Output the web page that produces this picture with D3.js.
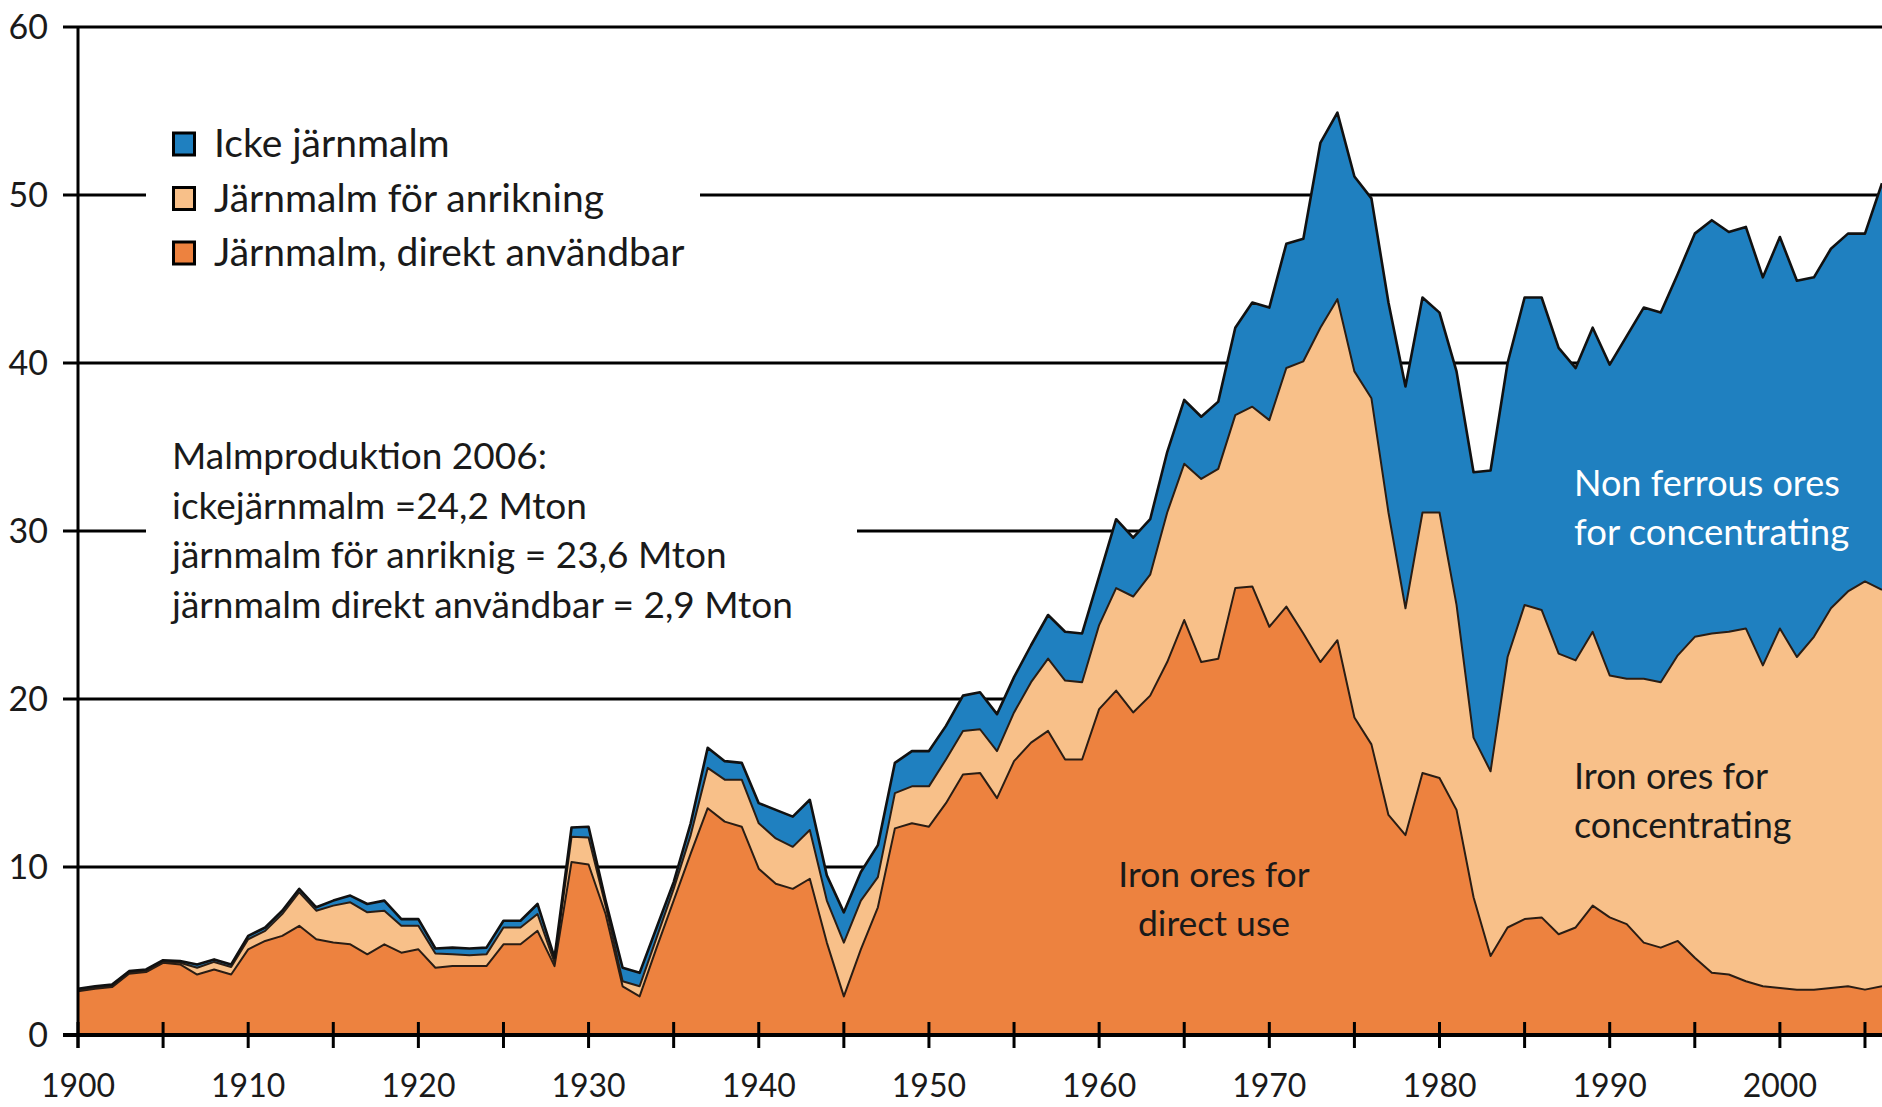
<!DOCTYPE html>
<html>
<head>
<meta charset="utf-8">
<script src="https://cdn.jsdelivr.net/npm/d3@7"></script>
<style>
  html, body { margin: 0; padding: 0; background: #fff; }
  svg { display: block; }
  text { font-family: Lato, "Open Sans", sans-serif; fill: #1a1a1a; }
</style>
</head>
<body>
<div id="container"><svg></svg></div>
<script>
// Malmproduktion i Sverige 1900-2006, Mton
let years = d3.range(1900, 2007);

let direct = [
  2.6, 2.75, 2.85, 3.65, 3.75, 4.3, 4.2, 3.6, 3.9, 3.6,
  5.1, 5.6, 5.9, 6.5, 5.7, 5.5, 5.4, 4.8, 5.4, 4.9,
  5.1, 4.0, 4.1, 4.1, 4.1, 5.4, 5.4, 6.2, 4.1, 10.3,
  10.15, 7.2, 2.9, 2.3, 5.2, 8.0, 10.8, 13.5, 12.7, 12.4,
  9.9, 9.0, 8.7, 9.3, 5.5, 2.3, 5.1, 7.6, 12.3, 12.6,
  12.4, 13.8, 15.5, 15.6, 14.1, 16.3, 17.4, 18.1, 16.4, 16.4,
  19.4, 20.5, 19.2, 20.2, 22.2, 24.7, 22.2, 22.4, 26.6, 26.7,
  24.3, 25.5, 23.9, 22.2, 23.5, 18.9, 17.3, 13.1, 11.9, 15.6,
  15.3, 13.4, 8.2, 4.7, 6.4, 6.9, 7.0, 6.0, 6.4, 7.7,
  7.0, 6.6, 5.5, 5.2, 5.6, 4.6, 3.7, 3.6, 3.2, 2.9,
  2.8, 2.7, 2.7, 2.8, 2.9, 2.7, 2.9
];

let concentrating = [
  0.05, 0.05, 0.05, 0.05, 0.05, 0.05, 0.1, 0.4, 0.45, 0.45,
  0.6, 0.6, 1.3, 2.0, 1.7, 2.2, 2.5, 2.5, 2.0, 1.6,
  1.4, 0.85, 0.7, 0.65, 0.7, 1.0, 1.0, 1.0, 0.2, 1.5,
  1.6, 0.5, 0.3, 0.6, 0.6, 0.7, 1.1, 2.4, 2.5, 2.8,
  2.7, 2.7, 2.5, 2.9, 2.5, 3.2, 2.9, 1.8, 2.1, 2.2,
  2.4, 2.6, 2.6, 2.6, 2.8, 2.9, 3.6, 4.3, 4.7, 4.6,
  5.0, 6.1, 6.9, 7.2, 8.9, 9.3, 10.9, 11.3, 10.3, 10.7,
  12.3, 14.2, 16.2, 19.9, 20.3, 20.6, 20.6, 18.0, 13.5, 15.5,
  15.8, 12.2, 9.5, 11.0, 16.1, 18.7, 18.3, 16.7, 15.9, 16.3,
  14.4, 14.6, 15.7, 15.8, 17.0, 19.1, 20.2, 20.4, 21.0, 19.1,
  21.4, 19.8, 21.0, 22.6, 23.5, 24.3, 23.6
];

let nonFerrous = [
  0.1, 0.1, 0.1, 0.1, 0.1, 0.1, 0.1, 0.2, 0.15, 0.15,
  0.2, 0.2, 0.2, 0.2, 0.2, 0.3, 0.4, 0.5, 0.6, 0.4,
  0.4, 0.3, 0.4, 0.4, 0.4, 0.4, 0.4, 0.6, 0.3, 0.55,
  0.65, 0.3, 0.8, 0.8, 0.6, 0.4, 0.7, 1.2, 1.1, 1.0,
  1.2, 1.7, 1.8, 1.8, 1.5, 1.8, 1.7, 1.9, 1.8, 2.1,
  2.1, 2.0, 2.1, 2.2, 2.2, 2.1, 2.2, 2.6, 2.9, 2.9,
  2.9, 4.1, 3.5, 3.3, 3.6, 3.8, 3.7, 4.0, 5.2, 6.2,
  6.7, 7.4, 7.3, 11.0, 11.1, 11.6, 11.9, 12.5, 13.2, 12.8,
  11.9, 13.9, 15.8, 17.9, 17.5, 18.3, 18.6, 18.2, 17.4, 18.1,
  18.5, 20.4, 22.1, 22.0, 22.7, 24.0, 24.6, 23.8, 23.9, 23.1,
  23.3, 22.4, 21.4, 21.4, 21.3, 20.7, 24.2
];

let keys = ['direct', 'concentrating', 'nonFerrous'];
let colors = {direct: '#ed823f', concentrating: '#f8c089', nonFerrous: '#1f80c0'};
let legendItems = [
  {key: 'nonFerrous', label: 'Icke järnmalm'},
  {key: 'concentrating', label: 'Järnmalm för anrikning'},
  {key: 'direct', label: 'Järnmalm, direkt användbar'}
];
let noteLines = [
  'Malmproduktion 2006:',
  'ickejärnmalm =24,2 Mton',
  'järnmalm för anriknig = 23,6 Mton',
  'järnmalm direkt användbar = 2,9 Mton'
];
let yTicks = [0, 10, 20, 30, 40, 50, 60];
let xLabels = d3.range(1900, 2001, 10);
let xTicks = d3.range(1900, 2006, 5);

let width = 1882, height = 1107;

function draw_main() {
  let svg = d3.select('#container').select('svg')
    .attr('width', width)
    .attr('height', height);

  let table = years.map((yr, i) => ({
    year: yr,
    direct: direct[i],
    concentrating: concentrating[i],
    nonFerrous: nonFerrous[i]
  }));
  let series = d3.stack().keys(keys)(table);

  let x = d3.scaleLinear().domain([1900, 2006]).range([78, 1882]);
  let y = d3.scaleLinear().domain([0, 60]).range([1035, 27]);

  // gridlines (ticks run out to the left of the axis)
  svg.append('g')
    .selectAll('line')
    .data(yTicks.filter(d => d > 0))
    .enter().append('line')
    .attr('x1', x(1900) - 15)
    .attr('x2', width)
    .attr('y1', d => y(d))
    .attr('y2', d => y(d))
    .attr('stroke', '#000')
    .attr('stroke-width', 3);

  // white boxes behind legend and note (they cut the gridlines)
  svg.append('rect').attr('x', 146).attr('y', 105).attr('width', 554).attr('height', 180).attr('fill', '#fff');
  svg.append('rect').attr('x', 146).attr('y', 420).attr('width', 711).attr('height', 220).attr('fill', '#fff');

  // areas
  let area = d3.area()
    .x(d => x(d.data.year))
    .y0(d => y(d[0]))
    .y1(d => y(d[1]));
  let line = d3.line()
    .x(d => x(d.data.year))
    .y(d => y(d[1]));

  svg.append('g')
    .selectAll('path')
    .data(series)
    .enter().append('path')
    .attr('d', area)
    .attr('fill', d => colors[d.key]);

  svg.append('g')
    .selectAll('path')
    .data(series)
    .enter().append('path')
    .attr('d', line)
    .attr('fill', 'none')
    .attr('stroke', (d, i) => i == 2 ? '#111' : '#2a1d14')
    .attr('stroke-width', (d, i) => i == 2 ? 2.6 : 2)
    .attr('stroke-linejoin', 'round');

  // x axis
  svg.append('line')
    .attr('x1', x(1900) - 15).attr('x2', width)
    .attr('y1', y(0)).attr('y2', y(0))
    .attr('stroke', '#000').attr('stroke-width', 4);
  svg.append('g')
    .selectAll('line')
    .data(xTicks)
    .enter().append('line')
    .attr('x1', d => x(d)).attr('x2', d => x(d))
    .attr('y1', y(0) - 13).attr('y2', y(0) + 13)
    .attr('stroke', '#000').attr('stroke-width', 3);
  svg.append('g')
    .selectAll('text')
    .data(xLabels)
    .enter().append('text')
    .attr('x', d => x(d))
    .attr('y', 1097)
    .attr('text-anchor', 'middle')
    .attr('font-size', 32)
    .text(d => d);

  // y axis
  svg.append('line')
    .attr('x1', x(1900)).attr('x2', x(1900))
    .attr('y1', y(60) - 1).attr('y2', y(0) + 13)
    .attr('stroke', '#000').attr('stroke-width', 3);
  svg.append('g')
    .selectAll('text')
    .data(yTicks)
    .enter().append('text')
    .attr('x', 48)
    .attr('y', d => y(d) + 12)
    .attr('text-anchor', 'end')
    .attr('font-size', 34)
    .text(d => d);

  // legend
  let lg = svg.append('g')
    .selectAll('g')
    .data(legendItems)
    .enter().append('g')
    .attr('transform', (d, i) => `translate(172, ${157 + i * 54.5})`);
  lg.append('rect')
    .attr('x', 1.5).attr('y', -24)
    .attr('width', 21).attr('height', 22)
    .attr('fill', d => colors[d.key])
    .attr('stroke', '#000').attr('stroke-width', 3);
  lg.append('text')
    .attr('x', 42)
    .attr('y', 0)
    .attr('font-size', 39)
    .text(d => d.label);

  // note
  svg.append('g')
    .selectAll('text')
    .data(noteLines)
    .enter().append('text')
    .attr('x', 172)
    .attr('y', (d, i) => 469 + i * 49.5)
    .attr('font-size', 37)
    .text(d => d);

  // labels inside the areas
  let inside = svg.append('g').attr('font-size', 35.5);
  inside.append('text').attr('x', 1214).attr('y', 887).attr('text-anchor', 'middle').text('Iron ores for');
  inside.append('text').attr('x', 1214).attr('y', 936).attr('text-anchor', 'middle').text('direct use');
  inside.append('text').attr('x', 1574).attr('y', 789).attr('font-size', 36).text('Iron ores for');
  inside.append('text').attr('x', 1574).attr('y', 838).attr('font-size', 36).text('concentrating');
  inside.append('text').attr('x', 1574).attr('y', 496).attr('font-size', 36).style('fill', '#fff').text('Non ferrous ores');
  inside.append('text').attr('x', 1574).attr('y', 545).attr('font-size', 36.5).style('fill', '#fff').text('for concentrating');
}

draw_main();
</script>
</body>
</html>
